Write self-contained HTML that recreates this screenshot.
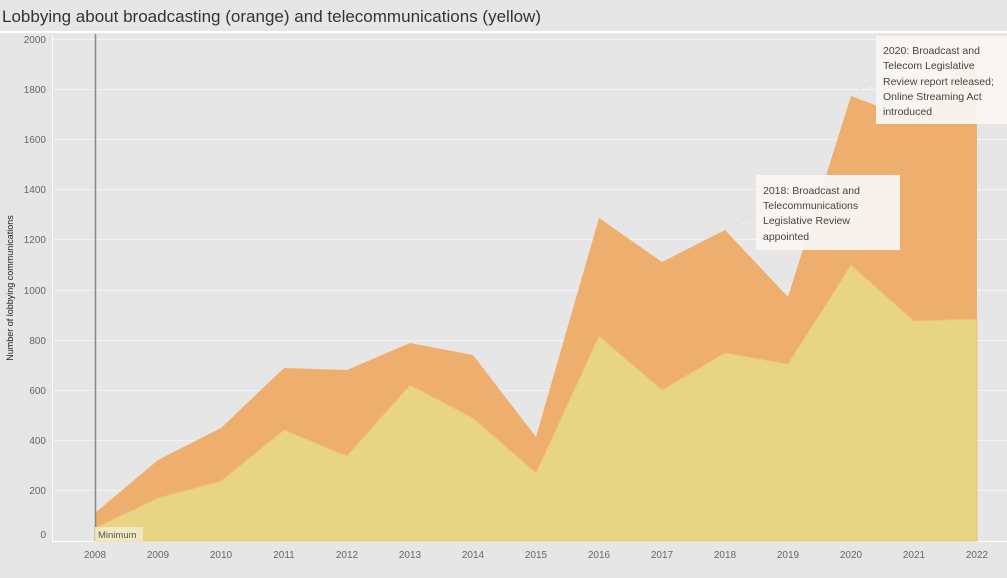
<!DOCTYPE html>
<html><head><meta charset="utf-8"><style>
body{margin:0;width:1007px;height:573px;background:#e6e6e6;overflow:hidden;font-family:"Liberation Sans",sans-serif}
</style></head><body>
<svg width="1007" height="573" viewBox="0 0 1007 573" xmlns="http://www.w3.org/2000/svg" font-family="Liberation Sans, sans-serif">
<rect width="1007" height="573" fill="#e6e6e6"/>
<text x="2" y="22" font-size="17" fill="#333" textLength="539">Lobbying about broadcasting (orange) and telecommunications (yellow)</text>
<rect x="0" y="31" width="1007" height="2" fill="#fff"/>
<g stroke="#f2f2f2" stroke-width="1">
<line x1="52" x2="1007" y1="39.5" y2="39.5"/><line x1="52" x2="1007" y1="89.5" y2="89.5"/>
<line x1="52" x2="1007" y1="139.5" y2="139.5"/><line x1="52" x2="1007" y1="189.5" y2="189.5"/>
<line x1="52" x2="1007" y1="239.5" y2="239.5"/><line x1="52" x2="1007" y1="290.5" y2="290.5"/>
<line x1="52" x2="1007" y1="340.5" y2="340.5"/><line x1="52" x2="1007" y1="390.5" y2="390.5"/>
<line x1="52" x2="1007" y1="440.5" y2="440.5"/><line x1="52" x2="1007" y1="490.5" y2="490.5"/>
</g>
<line x1="52.5" y1="36" x2="52.5" y2="541" stroke="#fff"/>
<line x1="52" y1="541.5" x2="1007" y2="541.5" stroke="#fff"/>
<g font-size="10" fill="#666" text-anchor="end">
<text x="46" y="43">2000</text><text x="46" y="93">1800</text><text x="46" y="143">1600</text>
<text x="46" y="193">1400</text><text x="46" y="243">1200</text><text x="46" y="294">1000</text>
<text x="46" y="344">800</text><text x="46" y="394">600</text><text x="46" y="444">400</text>
<text x="46" y="494">200</text><text x="46" y="538">0</text>
</g>
<text transform="translate(13,288) rotate(-90)" font-size="9" fill="#222" text-anchor="middle">Number of lobbying communications</text>
<polygon fill="#edae6e" points="95,541 95,513 158,460 221,428 284,368 347,370 410,343 473,355 536,437 599,218 662,262 725,230 788,297 851,96 914,120 977,48 977,541"/>
<polygon fill="#e8d584" stroke="#f0c070" stroke-width="1" points="95,541 95,528 158,498 221,481 284,430 347,456 410,385 473,418 536,473 599,336 662,390 725,353 788,364 851,265 914,321 977,319 977,541"/>
<line x1="95.5" y1="34" x2="95.5" y2="541" stroke="#888" stroke-width="1.5"/>
<rect x="95" y="527" width="48" height="14" fill="#f2ebcf" opacity="0.85"/>
<text x="98" y="538" font-size="9.5" fill="#555">Minimum</text>
<g font-size="10" fill="#666" text-anchor="middle">
<text x="95" y="558">2008</text><text x="158" y="558">2009</text><text x="221" y="558">2010</text>
<text x="284" y="558">2011</text><text x="347" y="558">2012</text><text x="410" y="558">2013</text>
<text x="473" y="558">2014</text><text x="536" y="558">2015</text><text x="599" y="558">2016</text>
<text x="662" y="558">2017</text><text x="725" y="558">2018</text><text x="788" y="558">2019</text>
<text x="851" y="558">2020</text><text x="914" y="558">2021</text><text x="977" y="558">2022</text>
</g>
<line x1="733" y1="225" x2="756" y2="212" stroke="#ddd"/>
<rect x="756" y="175" width="144" height="75" fill="#f9f6f2" opacity="0.95"/>
<g font-size="10.5" fill="#444"><text x="763" y="194">2018: Broadcast and</text><text x="763" y="209">Telecommunications</text><text x="763" y="224">Legislative Review</text><text x="763" y="240">appointed</text></g>
<line x1="858" y1="90" x2="876" y2="80" stroke="#ddd"/>
<rect x="876" y="36" width="131" height="88" fill="#f9f6f2" opacity="0.95"/>
<g font-size="10.5" fill="#444"><text x="883" y="54">2020: Broadcast and</text><text x="883" y="69">Telecom Legislative</text><text x="883" y="85">Review report released;</text><text x="883" y="100">Online Streaming Act</text><text x="883" y="115">introduced</text></g>
</svg>
</body></html>
